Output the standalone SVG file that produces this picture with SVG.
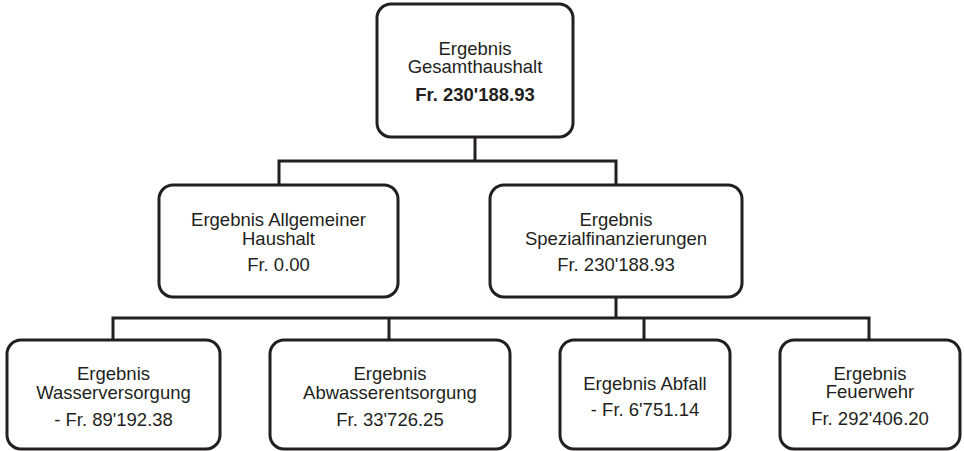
<svg xmlns="http://www.w3.org/2000/svg" width="964" height="451" viewBox="0 0 964 451">
<style>
.box{fill:#fff;stroke:#231f20;stroke-width:3}
.t{font-family:"Liberation Sans",Arial,sans-serif;font-size:18.5px;fill:#231f20;text-anchor:middle}
.b{font-weight:bold}
.c{fill:none;stroke:#231f20;stroke-width:3}
</style>
<rect width="964" height="451" fill="#fff"/>
<g id="connectors">
<path class="c" d="M475,137 V161 M279,185 V161 H616 V185"/>
<path class="c" d="M616,297 V318 M113,340 V318 H869 V340 M389,318 V340 M644,318 V340"/>
</g>
<g id="n-gesamt">
<rect class="box" x="377" y="4" width="196" height="133" rx="14"/>
<text class="t" x="475" y="54.5">Ergebnis</text>
<text class="t" x="475" y="73">Gesamthaushalt</text>
<text class="t b" x="475" y="100.5">Fr. 230'188.93</text>
</g>
<g id="n-allgemein">
<rect class="box" x="159" y="185" width="239" height="112" rx="14"/>
<text class="t" x="278.5" y="226">Ergebnis Allgemeiner</text>
<text class="t" x="278.5" y="244.5">Haushalt</text>
<text class="t" x="278.5" y="271">Fr. 0.00</text>
</g>
<g id="n-spezial">
<rect class="box" x="490" y="185" width="252" height="112" rx="14"/>
<text class="t" x="616" y="226">Ergebnis</text>
<text class="t" x="616" y="244.5">Spezialfinanzierungen</text>
<text class="t" x="616" y="271">Fr. 230'188.93</text>
</g>
<g id="n-wasser">
<rect class="box" x="7" y="340" width="213" height="109" rx="14"/>
<text class="t" x="113.5" y="380">Ergebnis</text>
<text class="t" x="113.5" y="398.5">Wasserversorgung</text>
<text class="t" x="113.5" y="425.5">- Fr. 89'192.38</text>
</g>
<g id="n-abwasser">
<rect class="box" x="270" y="340" width="240" height="109" rx="14"/>
<text class="t" x="390" y="380">Ergebnis</text>
<text class="t" x="390" y="398.5">Abwasserentsorgung</text>
<text class="t" x="390" y="425.5">Fr. 33'726.25</text>
</g>
<g id="n-abfall">
<rect class="box" x="560" y="340" width="170" height="109" rx="14"/>
<text class="t" x="645" y="389.5">Ergebnis Abfall</text>
<text class="t" x="645" y="415.5">- Fr. 6'751.14</text>
</g>
<g id="n-feuerwehr">
<rect class="box" x="780" y="340" width="180" height="109" rx="14"/>
<text class="t" x="870" y="379.5">Ergebnis</text>
<text class="t" x="870" y="398">Feuerwehr</text>
<text class="t" x="870" y="425">Fr. 292'406.20</text>
</g>
</svg>
